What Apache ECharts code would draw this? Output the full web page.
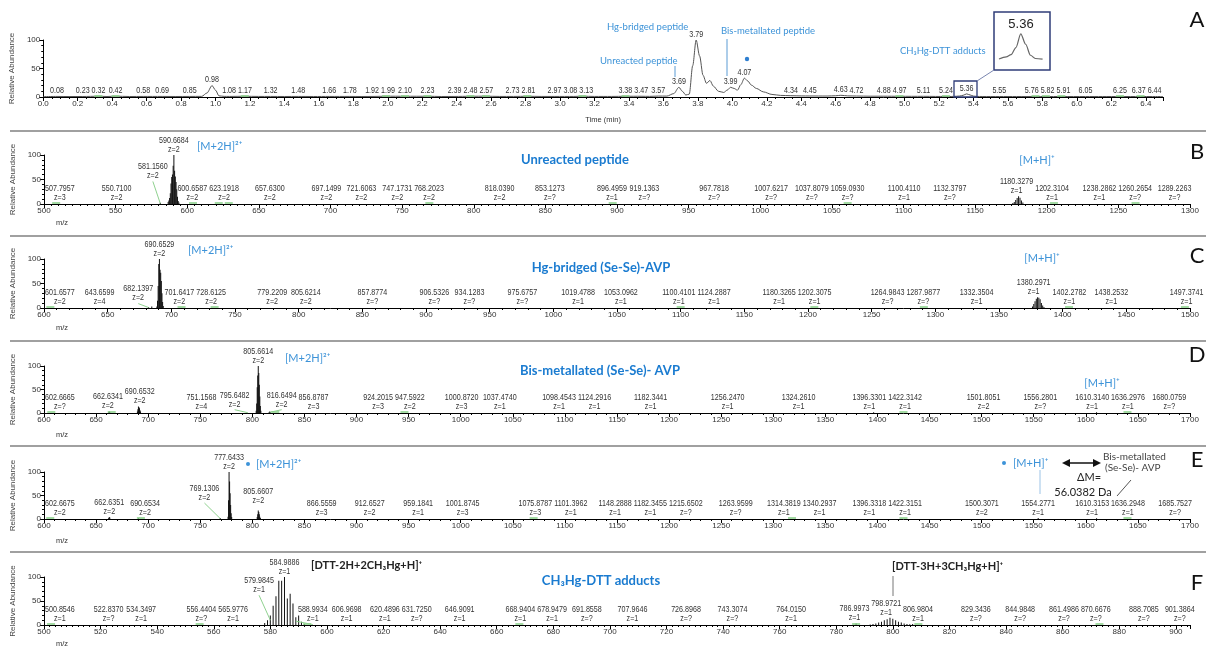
<!DOCTYPE html>
<html><head><meta charset="utf-8">
<script src="https://cdn.jsdelivr.net/npm/echarts@6/dist/echarts.min.js"></script>
<style>html,body{margin:0;padding:0;background:#fff}#c{width:1206px;height:647px}</style>
</head><body><div id="c"></div><script>
// ---------------- DATA ----------------
// Panel A: chromatogram trace [time (min), relative abundance]
const A_TRACE = [[0.00,0.6],[0.08,1.0],[0.15,0.8],[0.23,0.9],[0.32,1.3],[0.37,0.9],[0.42,1.4],[0.50,0.9],[0.58,1.0],[0.69,1.0],[0.77,0.9],[0.85,1.0],[0.92,1.1],[0.95,7],[0.98,20],[1.00,12],[1.02,2],[1.05,1.1],[1.08,1.0],[1.17,1.3],[1.25,1.0],[1.32,1.0],[1.40,0.9],[1.48,1.0],[1.57,0.9],[1.66,1.0],[1.78,1.0],[1.85,0.9],[1.92,1.0],[1.99,1.4],[2.10,1.3],[2.23,1.3],[2.31,0.9],[2.39,1.0],[2.48,1.3],[2.57,1.4],[2.65,1.0],[2.73,1.0],[2.81,1.3],[2.89,1.0],[2.97,1.0],[3.08,1.0],[3.13,1.4],[3.20,1.0],[3.30,1.0],[3.38,1.3],[3.47,1.3],[3.52,1.1],[3.57,1.6],[3.62,1.6],[3.66,6],[3.69,17],[3.71,10],[3.73,3.5],[3.75,5],[3.77,55],[3.79,100],[3.81,72],[3.83,38],[3.85,24],[3.87,29],[3.89,19],[3.92,10],[3.95,8],[3.97,12],[3.99,17],[4.01,15],[4.03,12],[4.05,22],[4.07,33],[4.09,28],[4.11,21],[4.14,15],[4.18,9],[4.23,4.5],[4.28,2.8],[4.34,2.3],[4.40,1.9],[4.45,1.8],[4.55,1.7],[4.60,2.2],[4.63,3.0],[4.67,2.0],[4.72,1.7],[4.80,1.4],[4.88,1.4],[4.97,1.3],[5.04,1.2],[5.11,1.2],[5.18,1.0],[5.24,1.0],[5.27,0.9],[5.30,1.3],[5.32,1.7],[5.34,3.0],[5.36,5.5],[5.38,3.6],[5.40,1.6],[5.42,1.0],[5.45,0.9],[5.55,0.9],[5.65,0.9],[5.76,0.9],[5.82,0.9],[5.91,0.9],[6.05,0.9],[6.15,0.9],[6.25,0.9],[6.37,0.9],[6.44,0.8],[6.50,0.8]];
const A_LABELS = [0.08,0.23,0.32,0.42,0.58,0.69,0.85,0.98,1.08,1.17,1.32,1.48,1.66,1.78,1.92,1.99,2.10,2.23,2.39,2.48,2.57,2.73,2.81,2.97,3.08,3.13,3.38,3.47,3.57,3.69,3.79,3.99,4.07,4.34,4.45,4.63,4.72,4.88,4.97,5.11,5.24,5.36,5.55,5.76,5.82,5.91,6.05,6.25,6.37,6.44];
const A_GREEN = [0.32,0.42,1.17,1.99,2.10,2.23,2.48,2.57,2.81,3.13,3.38,4.97,5.24,5.76,5.82,5.91,6.25,6.37];

// Panel B: unreacted peptide
const B_PEAKS = [[581.16,2.5],[586.67,4],[587.17,7],[587.67,12],[588.17,22],[588.67,42],[589.17,55],[589.67,60],[590.17,78],[590.67,100],[591.17,68],[591.67,56],[592.17,45],[592.67,30],[593.17,15],[593.67,6],[594.17,3],
 [1176.33,2],[1177.33,4],[1178.33,8],[1179.33,12],[1180.33,16],[1181.33,13],[1182.33,7],[1183.33,3]];
const B_LABELS = [['507.7957','z=3'],['550.7100','z=2'],['581.1560','z=2'],['590.6684','z=2'],['600.6587','z=2'],['623.1918','z=2'],['657.6300','z=2'],['697.1499','z=2'],['721.6063','z=2'],['747.1731','z=2'],['768.2023','z=2'],['818.0390','z=2'],['853.1273','z=?'],['896.4959','z=1'],['919.1363','z=?'],['967.7818','z=?'],['1007.6217','z=?'],['1037.8079','z=?'],['1059.0930','z=?'],['1100.4110','z=1'],['1132.3797','z=?'],['1180.3279','z=1'],['1202.3104','z=1'],['1238.2862','z=1'],['1260.2654','z=?'],['1289.2263','z=?']];
const B_GREEN = [508.5,604,622,629,769,897,1061,1205,1262];

// Panel C: Hg-bridged (Se-Se)-AVP
const C_PEAKS = [[682.14,2],[684.64,3],[688.65,3],[689.15,15],[689.65,45],[690.15,90],[690.65,100],[691.15,78],[691.65,72],[692.15,55],[692.65,30],[693.15,12],[693.65,4],
 [1376.30,3],[1377.30,8],[1378.30,14],[1379.30,19],[1380.30,22],[1381.30,21],[1382.30,18],[1383.30,10],[1384.30,5],[1385.30,2]];
const C_LABELS = [['601.6577','z=2'],['643.6599','z=4'],['682.1397','z=2'],['690.6529','z=2'],['701.6417','z=2'],['728.6125','z=2'],['779.2209','z=2'],['805.6214','z=2'],['857.8774','z=?'],['906.5326','z=?'],['934.1283','z=?'],['975.6757','z=?'],['1019.4788','z=1'],['1053.0962','z=1'],['1100.4101','z=1'],['1124.2887','z=1'],['1180.3265','z=1'],['1202.3075','z=1'],['1264.9843','z=?'],['1287.9877','z=?'],['1332.3504','z=1'],['1380.2971','z=1'],['1402.2782','z=1'],['1438.2532','z=1'],['1497.3741','z=1']];
const C_GREEN = [605,708,734,1100,1205,1291,1405,1496];

// Panel D: bis-metallated (Se-Se)-AVP
const D_PEAKS = [[662.13,1.5],[662.63,3],[663.13,2],[689.65,3],[690.15,8],[690.65,14],[691.15,12],[691.65,10],[692.15,6],[692.65,3],
 [803.66,5],[804.16,20],[804.66,55],[805.16,80],[805.66,100],[806.16,85],[806.66,60],[807.16,35],[807.66,15],[808.16,5],
 [816.15,2],[816.65,3],[817.15,2],[1396.33,1.5],[1610.31,1.5]];
const D_LABELS = [['602.6665','z=?'],['662.6341','z=2'],['690.6532','z=2'],['751.1568','z=4'],['795.6482','z=2'],['805.6614','z=2'],['816.6494','z=2'],['856.8787','z=3'],['924.2015','z=3'],['947.5922','z=2'],['1000.8720','z=3'],['1037.4740','z=1'],['1098.4543','z=1'],['1124.2916','z=1'],['1182.3441','z=1'],['1256.2470','z=1'],['1324.2610','z=1'],['1396.3301','z=1'],['1422.3142','z=1'],['1501.8051','z=2'],['1556.2801','z=?'],['1610.3140','z=1'],['1636.2976','z=1'],['1680.0759','z=?']];
const D_GREEN = [607,665,822,946,1425,1640];

// Panel E
const E_PEAKS = [[662.14,2],[662.64,4],[663.14,3],[690.65,1.5],[769.13,2],
 [776.64,5],[777.14,40],[777.64,100],[778.14,80],[778.64,55],[779.14,30],[779.64,12],[780.14,4],
 [804.66,4],[805.16,10],[805.66,18],[806.16,15],[806.66,10],[807.16,5],[807.66,2],[1554.28,2],[1610.32,1.5]];
const E_LABELS = [['602.6675','z=2'],['662.6351','z=2'],['690.6534','z=2'],['769.1306','z=2'],['777.6433','z=2'],['805.6607','z=2'],['866.5559','z=3'],['912.6527','z=2'],['959.1841','z=1'],['1001.8745','z=3'],['1075.8787','z=3'],['1101.3962','z=1'],['1148.2888','z=1'],['1182.3455','z=1'],['1215.6502','z=?'],['1263.9599','z=?'],['1314.3819','z=1'],['1340.2937','z=1'],['1396.3318','z=1'],['1422.3151','z=1'],['1500.3071','z=2'],['1554.2771','z=1'],['1610.3153','z=1'],['1636.2948','z=1'],['1685.7527','z=?']];
const E_GREEN = [606,693,1070,1318,1425,1640];

// Panel F: CH3Hg-DTT adducts
const F_PEAKS = [[577.99,4],[578.99,10],[579.98,20],[580.98,40],[581.98,60],[582.98,92],[583.98,92],[584.99,100],[585.99,55],[586.99,65],[587.99,45],[588.99,16],[589.99,20],[590.99,7],[591.99,2],
 [786.99,3],[791.97,1],[792.97,2],[793.97,3],[794.97,5],[795.97,7],[796.97,10],[797.97,12],[798.97,15],[799.97,13],[800.97,10],[801.97,7],[802.97,5],[803.97,3],[804.97,2],[805.97,1.5],[806.98,2]];
const F_LABELS = [['500.8546','z=1'],['522.8370','z=?'],['534.3497','z=1'],['556.4404','z=?'],['565.9776','z=1'],['579.9845','z=1'],['584.9886','z=1'],['588.9934','z=1'],['606.9698','z=1'],['620.4896','z=1'],['631.7250','z=?'],['646.9091','z=1'],['668.9404','z=1'],['678.9479','z=1'],['691.8558','z=?'],['707.9646','z=1'],['726.8968','z=?'],['743.3074','z=?'],['764.0150','z=1'],['786.9973','z=1'],['798.9721','z=1'],['806.9804','z=1'],['829.3436','z=?'],['844.9848','z=?'],['861.4986','z=?'],['870.6676','z=?'],['888.7085','z=?'],['901.3864','z=?']];
const F_GREEN = [502.5,555,593,668,787,809,873];

// ---------------- LAYOUT / STYLE ----------------
const LAYOUT = [
 {left:43, top:40, width:1120, height:57},
 {left:44, top:155, width:1146, height:49},
 {left:44, top:259, width:1146, height:49},
 {left:44, top:366, width:1146, height:47},
 {left:44, top:472, width:1146, height:47},
 {left:44, top:577, width:1146, height:48},
 {left:999, top:30, width:46, height:34}
];
const XSPEC = [
 {min:0,max:6.5,interval:0.2,minor:4,dec:1},
 {min:500,max:1300,interval:50,minor:10,dec:0},
 {min:600,max:1500,interval:50,minor:5,dec:0},
 {min:600,max:1700,interval:50,minor:5,dec:0},
 {min:600,max:1700,interval:50,minor:5,dec:0},
 {min:500,max:905,interval:20,minor:10,dec:0}
];
// label placement tweaks (label anchor in data units; leader = green connector)
const TWEAKS = [
 {},
 {'581.1560':{x:576,y:46,leader:true},'600.6587':{x:606}},
 {'682.1397':{x:674,y:9,leader:true},'701.6417':{x:709}},
 {'795.6482':{x:783,y:7,leader:true},'816.6494':{x:830,y:7,leader:true}},
 {'769.1306':{x:754,y:34,leader:true},'805.6607':{y:27},'690.6534':{x:697}},
 {'579.9845':{x:576,y:62,leader:true},'588.9934':{x:595,y:1,leader:true}}
];
const GREEN_HALF_PX = 4;   // half length of the green peak-detection marks

const FONT = '"Liberation Sans", Arial, sans-serif';
const LFS = 8.5, SCALE = 0.84, LH = 9;
const LFONT = LFS + 'px "Liberation Sans", Arial, sans-serif';
const BLUE = '#3d93d8', TBLUE = '#1a7bd0', LBLUE = '#5a9bd4', NAVY = '#2f3c78', GREEN = '#86cf86';

const mctx = document.createElement('canvas').getContext('2d');
mctx.font = LFONT;
const ppuOf = i => LAYOUT[i].width/(XSPEC[i].max-XSPEC[i].min);

// de-overlap labels horizontally (like the instrument software does)
function spread(i, items){
  const L = LAYOUT[i], S = XSPEC[i];
  const ppu = ppuOf(i);
  items.forEach(it=>{
    it.px = L.left + (it.x - S.min)*ppu;
    it.w = Math.max(...it.texts.map(s=>mctx.measureText(s).width))*SCALE;
    it.bot = L.top + L.height - it.y/100*L.height - 1;
    it.top = it.bot - LH*it.texts.length;
  });
  const lo = L.left + 1, hi = L.left + L.width + 14;
  const arr = items.slice().sort((a,b)=>a.px-b.px);
  for(let iter=0; iter<400; iter++){
    let moved=false;
    for(let a=0;a<arr.length;a++) for(let b=a+1;b<arr.length;b++){
      const A=arr[a], B=arr[b];
      if(A.bot<=B.top || B.bot<=A.top) continue;
      const need = A.w/2 + B.w/2 + 2 - (B.px - A.px);
      if(need>0.05){ A.px -= need/2; B.px += need/2; moved=true; }
    }
    arr.forEach(it=>{
      if(it.px - it.w/2 < lo){ it.px = lo + it.w/2; moved=true; }
      if(it.px + it.w/2 > hi){ it.px = hi - it.w/2; moved=true; }
    });
    if(!moved) break;
  }
  items.forEach(it=>{ it.lx = S.min + (it.px - L.left)/ppu; });
  return items;
}

const chart = echarts.init(document.getElementById('c'), null, {renderer:'canvas'});

const grids = LAYOUT.map(g => ({left:g.left, top:g.top, width:g.width, height:g.height, containLabel:false}));
const xAxes = XSPEC.map((s,i) => ({
  type:'value', gridIndex:i, min:s.min, max:s.max, interval:s.interval,
  name: i===0 ? 'Time (min)' : '', nameLocation:'middle', nameGap:19,
  nameTextStyle:{fontSize:7.5, color:'#333', fontFamily:FONT},
  axisLine:{show:true, onZero:false, lineStyle:{color:'#000', width:1}},
  axisTick:{show:true, length:4, lineStyle:{color:'#000', width:1}},
  minorTick:{show:true, splitNumber:s.minor, length:2, lineStyle:{color:'#000', width:1}},
  splitLine:{show:false}, minorSplitLine:{show:false},
  axisLabel:{fontSize:8, color:'#333', fontFamily:FONT, margin:3,
    formatter: v => { const k = (v - s.min)/s.interval; return Math.abs(k-Math.round(k))<1e-6 ? v.toFixed(s.dec) : ''; }}
}));
xAxes.push({type:'value', gridIndex:6, min:5.27, max:5.46, show:false});
const yAxes = [0,1,2,3,4,5].map(i => ({
  type:'value', gridIndex:i, min:0, max:100, interval:50,
  name:'Relative Abundance', nameLocation:'middle', nameGap:25, nameRotate:90,
  nameTextStyle:{fontSize:8, color:'#444', fontFamily:FONT},
  axisLine:{show:true, lineStyle:{color:'#000', width:1}},
  axisTick:{show:true, length:4, lineStyle:{color:'#000'}},
  minorTick:{show:true, splitNumber:5, length:2, lineStyle:{color:'#000'}},
  splitLine:{show:false},
  axisLabel:{fontSize:8, color:'#333', fontFamily:FONT, margin:3}
}));
yAxes.push({type:'value', gridIndex:6, min:0, max:6.2, show:false});

// custom series drawing condensed, stacked labels at data coordinates
function labelSeries(i, items){
  return {type:'custom', xAxisIndex:i, yAxisIndex:i, silent:true, z:5, clip:false,
    data: items.map(it=>[it.lx, it.y]), encode:{x:0, y:1},
    renderItem:(params, api)=>{
      const it = items[params.dataIndex];
      const p = api.coord([api.value(0), api.value(1)]);
      return {type:'text', x:p[0], y:p[1]-1, scaleX:SCALE,
        style:{text:it.texts.join('\n'), font:LFONT, lineHeight:LH, fill:'#333', align:'center', verticalAlign:'bottom'}};
    }};
}
function greenSeries(i, xs){
  const d = GREEN_HALF_PX/ppuOf(i);
  return {type:'lines', coordinateSystem:'cartesian2d', xAxisIndex:i, yAxisIndex:i, silent:true, z:4,
    data: xs.map(x=>({coords:[[x-d,3],[x+d,3]]})), lineStyle:{color:GREEN, width:1.5, opacity:1}};
}

const series = [];
// Panel A chromatogram
series.push({type:'line', xAxisIndex:0, yAxisIndex:0, data:A_TRACE, showSymbol:false, smooth:0.3, smoothMonotone:'x',
  lineStyle:{color:'#555', width:1}, silent:true, z:3});
function traceAt(t){ let best=A_TRACE[0]; A_TRACE.forEach(p=>{ if(Math.abs(p[0]-t)<Math.abs(best[0]-t)) best=p; }); return best[1]; }
series.push(labelSeries(0, spread(0, A_LABELS.map(t=>({x:t, y:traceAt(t), texts:[t.toFixed(2)]})))));
series.push(greenSeries(0, A_GREEN));
// inset (zoom on 5.36) from the same trace
series.push({type:'line', xAxisIndex:6, yAxisIndex:6, data:A_TRACE.filter(p=>p[0]>=5.27&&p[0]<=5.46), showSymbol:false, smooth:0.3, smoothMonotone:'x',
  lineStyle:{color:'#666', width:1.2}, silent:true});

const PANELS = [null,[B_PEAKS,B_LABELS,B_GREEN],[C_PEAKS,C_LABELS,C_GREEN],[D_PEAKS,D_LABELS,D_GREEN],[E_PEAKS,E_LABELS,E_GREEN],[F_PEAKS,F_LABELS,F_GREEN]];
function baseY(peaks, m){ let y=1.2; peaks.forEach(p=>{ if(Math.abs(p[0]-m)<0.6 && p[1]>y) y=p[1]; }); return y; }
for(let i=1;i<=5;i++){
  const [peaks, labels, greens] = PANELS[i];
  series.push({type:'bar', xAxisIndex:i, yAxisIndex:i, data:peaks, barWidth:1, itemStyle:{color:'#111'}, silent:true, z:3});
  series.push(greenSeries(i, greens));
  const tw = TWEAKS[i];
  const items = labels.map(([t,z])=>{
    const m=parseFloat(t); const py=baseY(peaks,m); const w=tw[t]||{};
    return {x: w.x!=null?w.x:m, y: w.y!=null?w.y:py, m, py, leader:!!w.leader, texts:[t,z]};
  });
  spread(i, items);
  series.push(labelSeries(i, items));
  const leaders = items.filter(it=>it.leader).map(it=>({coords:[[it.lx, it.y],[it.m, it.py*0.5]]}));
  if(leaders.length) series.push({type:'lines', coordinateSystem:'cartesian2d', xAxisIndex:i, yAxisIndex:i, data:leaders,
    lineStyle:{color:'#8fd18f', width:1, opacity:1}, silent:true, z:4});
}

// ---------------- GRAPHIC ANNOTATIONS ----------------
function txt(x,y,text,font,fill,align){ return {type:'text', x, y, silent:true, z:10,
  style:{text, font, fill, align:align||'left', verticalAlign:'middle', textAlign:align||'left', textVerticalAlign:'middle'}}; }
function ln(x1,y1,x2,y2,stroke,w){ return {type:'line', silent:true, z:10, shape:{x1,y1,x2,y2}, style:{stroke, lineWidth:w||1}}; }
const ANN = '11px Lato, sans-serif', TIT = 'bold 13px Lato, sans-serif', SMALL='9.5px Lato, sans-serif', LET='22px Lato, sans-serif';
const g = [];
[131,236,341,446,552].forEach(y=>g.push(ln(10,y,1206,y,'#a0a0a0',2)));
// A
g.push(txt(607,27,'Hg-bridged peptide',SMALL,BLUE));
g.push(txt(600,61,'Unreacted peptide',SMALL,BLUE));
g.push(ln(675,66,675,77,LBLUE,1));
g.push(txt(721,31,'Bis-metallated peptide',SMALL,BLUE));
g.push(ln(727,39,727,76,LBLUE,1));
g.push({type:'circle', silent:true, z:10, shape:{cx:747,cy:59,r:2.2}, style:{fill:'#2f7fd0'}});
g.push(txt(900,51,'CH₃Hg-DTT adducts',SMALL,BLUE));
g.push({type:'rect', silent:true, z:10, shape:{x:954,y:81,width:23,height:16}, style:{fill:'none', stroke:NAVY, lineWidth:1.3}});
g.push({type:'rect', silent:true, z:10, shape:{x:994,y:12,width:56,height:58}, style:{fill:'none', stroke:NAVY, lineWidth:1.5}});
g.push(ln(977,81,994,70,'#7a86b0',1));
g.push(txt(1021,24,'5.36','13px Liberation Sans, Arial','#222','center'));
g.push(txt(1197,20,'A',LET,'#111','center'));
// B
g.push(txt(197,146,'[M+2H]²⁺',ANN,BLUE));
g.push(txt(575,160,'Unreacted peptide',TIT,TBLUE,'center'));
g.push(txt(1037,160,'[M+H]⁺',ANN,BLUE,'center'));
g.push(txt(1197,152,'B',LET,'#111','center'));
// C
g.push(txt(188,250,'[M+2H]²⁺',ANN,BLUE));
g.push(txt(601,268,'Hg-bridged (Se-Se)-AVP',TIT,TBLUE,'center'));
g.push(txt(1042,258,'[M+H]⁺',ANN,BLUE,'center'));
g.push(txt(1197,256,'C',LET,'#111','center'));
// D
g.push(txt(285,358,'[M+2H]²⁺',ANN,BLUE));
g.push(txt(600,371,'Bis-metallated (Se-Se)- AVP',TIT,TBLUE,'center'));
g.push(txt(1102,383,'[M+H]⁺',ANN,BLUE,'center'));
g.push(txt(1197,355,'D',LET,'#111','center'));
// E
g.push({type:'circle', silent:true, z:10, shape:{cx:248,cy:464,r:2}, style:{fill:BLUE}});
g.push(txt(256,464,'[M+2H]²⁺',ANN,BLUE));
g.push({type:'circle', silent:true, z:10, shape:{cx:1004,cy:463,r:2}, style:{fill:BLUE}});
g.push(txt(1013,463,'[M+H]⁺',ANN,BLUE));
g.push(ln(1040,470,1040,494,'#9cc3e6',1));
g.push(ln(1068,463,1095,463,'#111',1.5));
g.push({type:'polygon', silent:true, z:10, shape:{points:[[1062,463],[1070,459],[1070,467]]}, style:{fill:'#111'}});
g.push({type:'polygon', silent:true, z:10, shape:{points:[[1101,463],[1093,459],[1093,467]]}, style:{fill:'#111'}});
g.push(txt(1089,477,'ΔM=','11px Lato, sans-serif','#222','center'));
g.push(txt(1083,492,'56.0382 Da','11px Lato, sans-serif','#222','center'));
g.push(txt(1103,457,'Bis-metallated','10px Lato, sans-serif','#444'));
g.push(txt(1105,468,'(Se-Se)- AVP','10px Lato, sans-serif','#444'));
g.push(ln(1131,480,1117,496,'#555',1));
g.push(txt(1197,460,'E',LET,'#111','center'));
// F
g.push(txt(311,565,'[DTT-2H+2CH₃Hg+H]⁺','bold 11px Lato, sans-serif','#222'));
g.push(txt(601,581,'CH₃Hg-DTT adducts',TIT,TBLUE,'center'));
g.push(txt(892,566,'[DTT-3H+3CH₃Hg+H]⁺','bold 11px Lato, sans-serif','#222'));
g.push(ln(893,576,893,596,'#777',1));
g.push(txt(1197,583,'F',LET,'#111','center'));
// m/z names
[223,328,435,541,644].forEach(y=>g.push(txt(62,y,'m/z','7.5px "Liberation Sans", Arial','#333','center')));

chart.setOption({animation:false, textStyle:{fontFamily:FONT}, grid:grids, xAxis:xAxes, yAxis:yAxes, series, graphic:{elements:g}});
</script></body></html>
